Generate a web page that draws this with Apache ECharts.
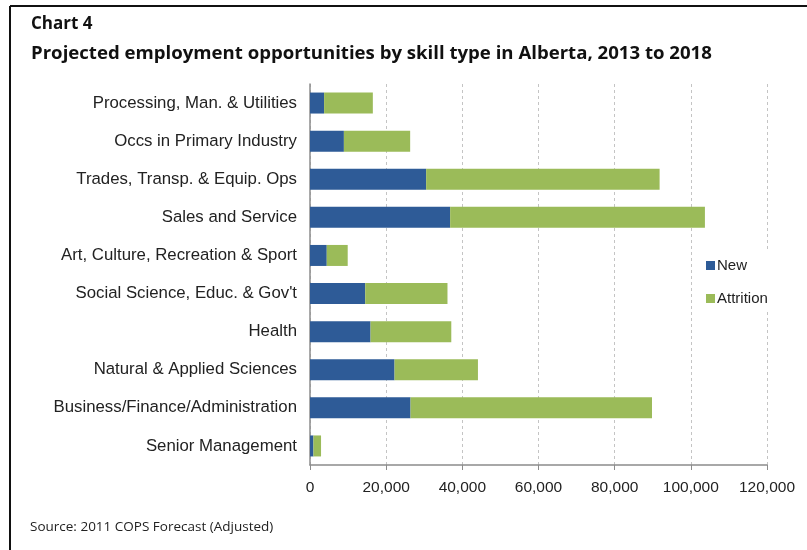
<!DOCTYPE html>
<html>
<head>
<meta charset="utf-8">
<script src="https://cdn.jsdelivr.net/npm/echarts@6/dist/echarts.min.js"></script>
<style>
  html, body { margin: 0; padding: 0; background: #fff; }
  #chart { width: 807px; height: 550px; }
</style>
</head>
<body>
<div id="chart"></div>
<script>
// Skill types, listed bottom-to-top as the category axis draws them
const skillTypes = [
  'Senior Management',
  'Business/Finance/Administration',
  'Natural & Applied Sciences',
  'Health',
  "Social Science, Educ. & Gov't",
  'Art, Culture, Recreation & Sport',
  'Sales and Service',
  'Trades, Transp. & Equip. Ops',
  'Occs in Primary Industry',
  'Processing, Man. & Utilities'
];

// Job openings from new demand (expansion)
const newJobs = [900, 26400, 22200, 15900, 14500, 4400, 36800, 30500, 8900, 3700];

// Job openings from attrition (retirements, deaths, emigration)
const attritionJobs = [2000, 63400, 21900, 21200, 21600, 5500, 66900, 61300, 17400, 12800];

// Value axis ticks
const xTicks = [0, 20000, 40000, 60000, 80000, 100000, 120000];

const chart = echarts.init(document.getElementById('chart'), null, { renderer: 'canvas' });

const labelFont = '"Liberation Sans", Arial, sans-serif';
const titleFont = '"Open Sans", "Noto Sans", sans-serif';

chart.setOption({
  backgroundColor: '#ffffff',
  animation: false,
  graphic: [
    // frame lines on the left and top edges
    { type: 'line', shape: { x1: 10, y1: 6, x2: 10, y2: 550 }, style: { stroke: '#111', lineWidth: 2 } },
    { type: 'line', shape: { x1: 10, y1: 6, x2: 807, y2: 6 }, style: { stroke: '#111', lineWidth: 2 } },
    { type: 'text', left: 30, top: 520,
      style: { text: 'Source: 2011 COPS Forecast (Adjusted)', font: '13.5px ' + titleFont, fill: '#222' } }
  ],
  title: [
    { text: 'Chart 4', left: 26, top: 11,
      textStyle: { fontFamily: titleFont, fontWeight: 'bold', fontSize: 17, color: '#111' } },
    { text: 'Projected employment opportunities by skill type in Alberta, 2013 to 2018', left: 26, top: 39,
      textStyle: { fontFamily: titleFont, fontWeight: 'bold', fontSize: 18.6, color: '#111' } }
  ],
  legend: {
    data: ['New', 'Attrition'],
    orient: 'vertical',
    left: 702,
    top: 252,
    itemWidth: 9,
    itemHeight: 9,
    itemGap: 18,
    padding: [6, 8, 6, 4],
    backgroundColor: '#ffffff',
    icon: 'rect',
    textStyle: { fontFamily: labelFont, fontSize: 15, color: '#222', padding: [0, 0, 0, -3] }
  },
  grid: { left: 310, right: 40, top: 84, bottom: 85, containLabel: false },
  xAxis: {
    type: 'value',
    min: xTicks[0],
    max: xTicks[xTicks.length - 1],
    interval: xTicks[1] - xTicks[0],
    axisLine: { show: true, lineStyle: { color: '#8c8c8c', width: 1.5 } },
    axisTick: { show: true, length: 5, lineStyle: { color: '#8c8c8c' } },
    axisLabel: {
      margin: 15,
      fontFamily: labelFont,
      fontSize: 15.5,
      color: '#222',
      formatter: v => v.toLocaleString('en-US')
    },
    splitLine: { show: true, lineStyle: { color: '#c4c4c4', type: [3, 3], width: 1 } }
  },
  yAxis: {
    type: 'category',
    data: skillTypes,
    axisLine: { show: true, lineStyle: { color: '#8c8c8c', width: 1.5 } },
    axisTick: { show: false },
    axisLabel: { margin: 13, fontFamily: labelFont, fontSize: 16.8, color: '#222' }
  },
  series: [
    {
      name: 'New', type: 'bar', stack: 'total', data: newJobs,
      barWidth: 21, itemStyle: { color: '#2e5b97' }
    },
    {
      name: 'Attrition', type: 'bar', stack: 'total', data: attritionJobs,
      barWidth: 21, itemStyle: { color: '#9bbb59' }
    }
  ]
});
</script>
</body>
</html>
